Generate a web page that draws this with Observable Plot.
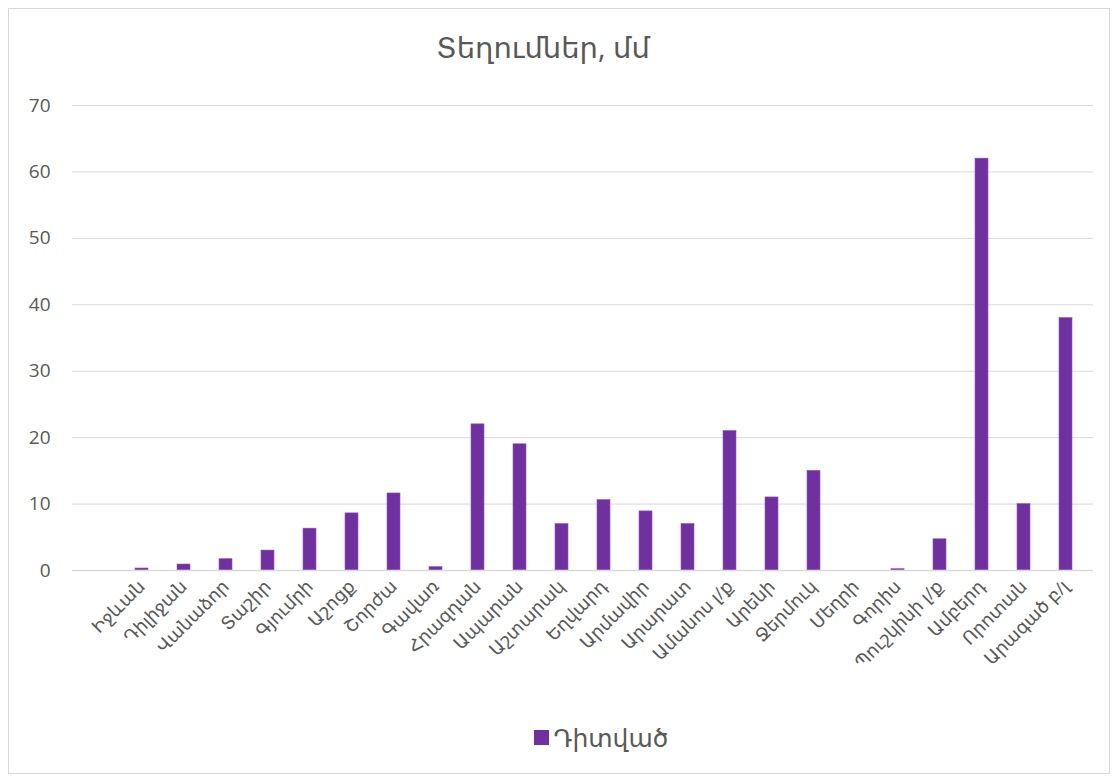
<!DOCTYPE html>
<html>
<head>
<meta charset="utf-8">
<script src="https://cdn.jsdelivr.net/npm/d3@7"></script>
<script src="https://cdn.jsdelivr.net/npm/@observablehq/plot@0.6"></script>
<style>
  body { margin: 0; background: #fff; font-family: "Open Sans", "DejaVu Sans", sans-serif; color: #595959; }
  #frame { position: absolute; left: 8px; top: 8px; width: 1100px; height: 764px; border: 1px solid #d9d9d9; }
  #title { position: absolute; left: 243px; width: 600px; top: 27px; text-align: center; font-size: 29px; color: #595959; }
  #chart { position: absolute; left: 0; top: 90px; }
  #legend { position: absolute; left: 84px; width: 1034px; top: 720px; display: flex; justify-content: center; align-items: center; font-size: 25px; color: #595959; }
  #legend .sw { width: 15px; height: 15px; background: #7030A0; margin-right: 5px; }
</style>
</head>
<body>
<div id="frame"></div>
<div id="title">Տեղումներ, մմ</div>
<div id="chart"></div>
<div id="legend"><span class="sw"></span><span>Դիտված</span></div>
<script>
const stations = ["Իջևան","Դիլիջան","Վանաձոր","Տաշիր","Գյումրի","Աշոցք","Շորժա","Գավառ","Հրազդան","Ապարան","Աշտարակ","Եղվարդ","Արմավիր","Արարատ","Ամանոս լ/ք","Արենի","Ջերմուկ","Մեղրի","Գորիս","Պուշկինի լ/ք","Ամբերդ","Որոտան","Արագած բ/լ"];
const values = [0.3, 0.9, 1.7, 3.0, 6.3, 8.6, 11.6, 0.5, 22, 19, 7, 10.6, 8.9, 7, 21, 11, 15, 0, 0.2, 4.7, 62, 10, 38];
const yTicks = [0, 10, 20, 30, 40, 50, 60, 70];

const data = stations.map((s, i) => ({station: s, value: values[i]}));

const W = 1118, H = 610;
const mL = 72, mR = 25, mT = 15, mB = 130;
const chart = Plot.plot({
  width: W,
  height: H,
  marginLeft: mL,
  marginRight: mR,
  marginTop: mT,
  marginBottom: mB,
  style: {fontFamily: '"Open Sans", "DejaVu Sans", sans-serif', color: "#595959", background: "transparent"},
  x: {domain: stations, range: [mL + 42.5, W - mR], paddingInner: 0.69, paddingOuter: 0.345, label: null},
  y: {domain: [0, 70], label: null},
  marks: [
    Plot.gridY(yTicks, {stroke: "#d9d9d9", strokeOpacity: 1}),
    Plot.axisY(yTicks, {tickSize: 0, tickPadding: 22, fontSize: 19, fill: "#595959", label: null}),
    Plot.barY(data, {x: "station", y: "value", fill: "#7030A0", stroke: "#8a5ab8", strokeWidth: 0.6}),
    Plot.ruleY([0], {stroke: "#d9d9d9", strokeWidth: 1.3}),
    Plot.axisX({tickSize: 0, tickPadding: 13, tickRotate: -45, fontSize: 18, fill: "#595959", label: null})
  ]
});
document.getElementById("chart").appendChild(chart);
</script>
</body>
</html>
